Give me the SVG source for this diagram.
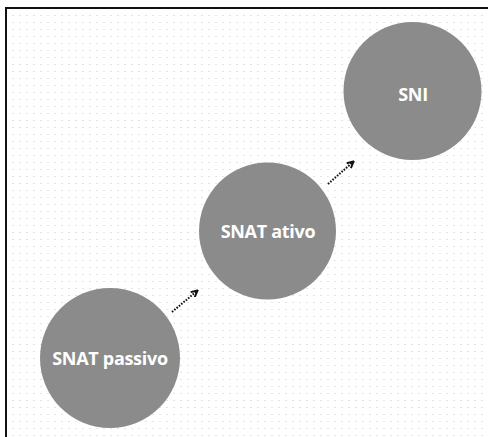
<svg xmlns="http://www.w3.org/2000/svg" width="488" height="437" viewBox="0 0 488 437">
  <style>
    .node circle { fill: #8b8b8b; }
    .node text { fill: #ffffff; font-family: "Open Sans", "Liberation Sans", sans-serif; font-weight: 700; font-size: 18px; text-anchor: middle; letter-spacing: -0.3px; }
    .link { stroke: #111111; stroke-width: 2; stroke-dasharray: 1.6 1.4; fill: none; marker-end: url(#head); }
  </style>
  <defs>
    <pattern id="dots" x="3" y="5" width="7" height="7" patternUnits="userSpaceOnUse">
      <rect x="2" y="3" width="2" height="1" fill="#e4e4e4"/>
    </pattern>
    <marker id="head" viewBox="0 0 10 10" refX="8" refY="5" markerWidth="4" markerHeight="4" orient="auto" markerUnits="strokeWidth">
      <path d="M1,1 L9,5 L1,9" fill="none" stroke="#111111" stroke-width="2.4"/>
    </marker>
  </defs>

  <!-- canvas -->
  <rect width="488" height="437" fill="#ffffff"/>
  <rect x="7" y="9" width="481" height="428" fill="url(#dots)"/>
  <!-- frame -->
  <path d="M6,437 V8 H488" fill="none" stroke="#111111" stroke-width="2"/>

  <g id="connectors">
    <path class="link" d="M172,312 L197,291"/>
    <path class="link" d="M328,184 L353,162"/>
  </g>

  <g id="node-snat-passivo" class="node">
    <circle cx="110" cy="358" r="70"/>
    <text x="110" y="365">SNAT passivo</text>
  </g>
  <g id="node-snat-ativo" class="node">
    <circle cx="267.5" cy="231" r="68.5"/>
    <text x="268" y="238">SNAT ativo</text>
  </g>
  <g id="node-sni" class="node">
    <circle cx="412.5" cy="91" r="69"/>
    <text x="413" y="101">SNI</text>
  </g>
</svg>
